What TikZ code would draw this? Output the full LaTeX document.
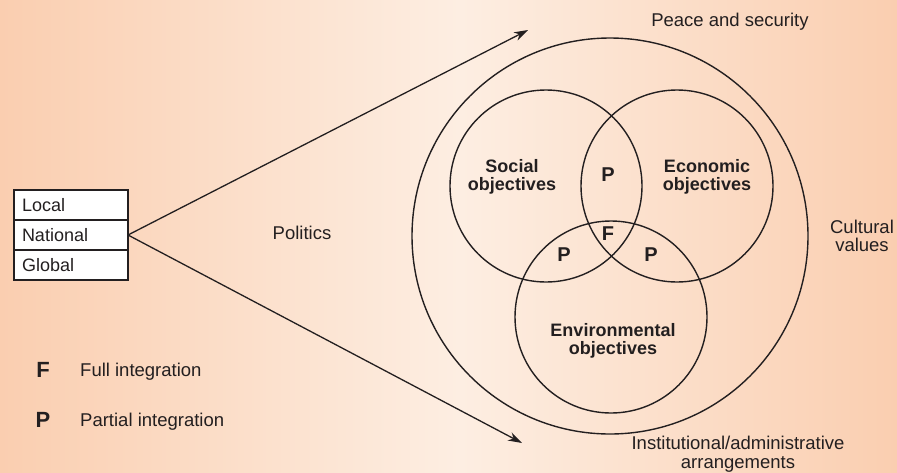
\documentclass[tikz,border=0pt]{standalone}
\usepackage{fontspec}
\setmainfont{Liberation Sans}
\usetikzlibrary{positioning,arrows.meta}
\definecolor{peach}{RGB}{250,206,176}
\definecolor{cream}{RGB}{253,238,226}
\definecolor{ink}{RGB}{35,31,32}
\tikzset{
  levelbox/.style={draw=ink, fill=white, line width=1.1pt, text width=98pt, inner xsep=8pt,
    inner ysep=0pt, minimum height=30pt, align=left, outer sep=0pt, text=ink,
    font=\fontsize{18}{20}\selectfont},
  ring/.style={draw=ink, line width=1.4pt},
  plain/.style={text=ink, align=center, inner sep=0pt, font=\fontsize{18.5}{18.5}\selectfont},
  goal/.style={text=ink, align=center, inner sep=0pt, font=\bfseries\fontsize{18}{18.5}\selectfont},
  integ/.style={text=ink, inner sep=0pt, font=\bfseries\fontsize{20}{20}\selectfont},
  keyletter/.style={text=ink, inner sep=0pt, font=\bfseries\fontsize{22}{22}\selectfont}
}
\begin{document}
\begin{tikzpicture}[x=1pt, y=-1pt, >={Stealth[length=14pt,width=9pt]}]
    \shade[left color=peach, right color=cream] (0,0) rectangle (460,472);
    \shade[left color=cream, right color=peach] (460,0) rectangle (897,472);
    \useasboundingbox (0,0) rectangle (897,472);
    % levels
    \node[levelbox] (local) at (71,205) {Local};
    \node[levelbox, below=0pt of local] (national) {National};
    \node[levelbox, below=0pt of national] (global) {Global};
    \coordinate (peacetip) at (528,30);
    \coordinate (insttip) at (522,443);
    \draw[->, draw=ink, line width=1.3pt] (national.east) -- (peacetip);
    \draw[->, draw=ink, line width=1.3pt] (national.east) -- (insttip);
    % circles
    \draw[ring] (610,236) circle[radius=198pt];
    \draw[ring] (546,186) circle[radius=96pt];
    \draw[ring] (677,186) circle[radius=96pt];
    \draw[ring] (611,317) circle[radius=96pt];
    \node[plain] (peace) at (730,22) {Peace and security};
    \node[plain] (politics) at (302,233) {Politics};
    \node[plain] (culture) at (862,236) {Cultural\\values};
    \node[plain] (inst) at (738,454) {Institutional/administrative\\arrangements};
    \node[goal] (social) at (512,177) {Social\\objectives};
    \node[goal] (economic) at (707,177) {Economic\\objectives};
    \node[goal] (environ) at (613,341) {Environmental\\objectives};
    \node[integ] (ptop) at (608,175) {P};
    \node[integ] (fmid) at (608,234) {F};
    \node[integ] (pleft) at (564,255) {P};
    \node[integ] (pright) at (651,255) {P};
    % key
    \node[keyletter] (fkey) at (43,370) {F};
    \node[plain, anchor=base west] (fnote) at (80,376) {Full integration};
    \node[keyletter] (pkey) at (43,420) {P};
    \node[plain, anchor=base west] (pnote) at (80,426) {Partial integration};
\end{tikzpicture}
\end{document}
